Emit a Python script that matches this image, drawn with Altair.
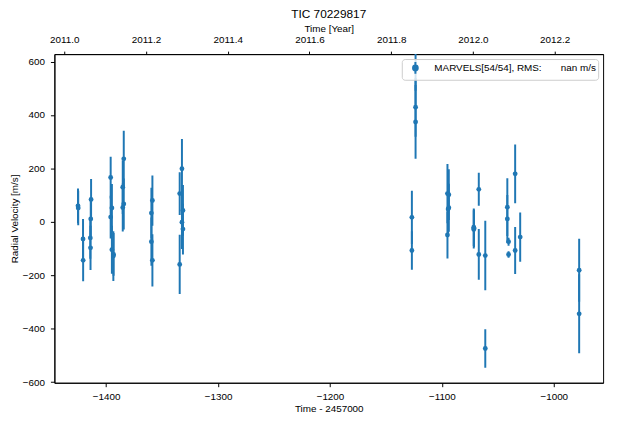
import altair as alt
import pandas as pd

# RV time series (BJD - 2457000, m/s)
time_bjd = [
    -1425.2, -1425.0, -1420.7, -1420.6,
    -1413.5, -1413.8, -1414.2, -1414.0,
    -1396.0, -1394.9, -1396.0, -1394.9, -1393.4, -1393.6,
    -1384.3, -1385.2, -1384.3, -1385.2,
    -1358.7, -1359.6, -1359.6, -1358.7,
    -1332.3, -1334.3, -1331.4, -1332.3, -1331.4, -1334.3,
    -1123.5, -1123.5, -1123.5, -1126.8, -1126.8,
    -1095.0, -1093.8, -1093.8, -1094.4, -1095.0,
    -1071.5, -1071.5, -1071.3, -1067.0, -1067.0,
    -1061.2, -1061.2,
    -1041.5, -1041.5, -1040.4, -1040.4,
    -1034.5, -1034.5, -1030.0,
    -977.3, -977.3,
]
rv = [
    60, 52, -64, -144,
    84, 11, -60, -97,
    166, 52, 18, -104, -122, -128,
    236, 130, 67, 54,
    80, 33, -74, -144,
    199, 106, 43, -1, -27, -159,
    581, 429, 374, 17, -107,
    106, 102, 53, 48, -49,
    -20, -28, -24, 122, -122,
    -126, -474,
    55, 11, -74, -122,
    180, -107, -57,
    -181, -344,
]
rv_err = [
    65, 65, 75, 78,
    77, 75, 78, 83,
    78, 90, 80, 90, 80, 93,
    105, 100, 95, 90,
    94, 95, 90, 98,
    111, 80, 95, 100, 95, 111,
    90, 110, 138, 100, 72,
    111, 95, 90, 90, 88,
    70, 72, 70, 62, 95,
    130, 72,
    108, 90, 15, 12,
    110, 88, 92,
    118, 148,
]

T_MIN, T_MAX = -1446.3, -955.9
RV_MIN, RV_MAX = -602, 628
T_2011 = -1437.5  # 2011.0 expressed as BJD - 2457000


def to_year(t):
    return 2011.0 + (t - T_2011) / 365.25


df = pd.DataFrame({"time": time_bjd, "rv": rv, "err": rv_err})
df["lo"] = df["rv"] - df["err"]
df["hi"] = df["rv"] + df["err"]
df["year"] = df["time"].map(to_year)
nb = "\u00a0"
df["series"] = f"MARVELS[54/54], RMS:{nb * 7}nan m/s"

blue = "#1f77b4"
font = "Liberation Sans"

x_scale = alt.Scale(domain=[T_MIN, T_MAX], nice=False, zero=False)
y_scale = alt.Scale(domain=[RV_MIN, RV_MAX], nice=False, zero=False)
x_axis = alt.Axis(title="Time - 2457000", values=[-1400, -1300, -1200, -1100, -1000],
                  format="d", orient="bottom", labelPadding=5, titlePadding=2,
                  titleFontWeight="normal")
y_axis = alt.Axis(title="Radial Velocity [m/s]", values=list(range(-600, 601, 200)),
                  format="d", labelPadding=6, titlePadding=3, titleFontWeight="normal")

# errorbar-like legend glyph: vertical bar with a dot
errbar_glyph = "M0.8,-1L0.8,1M0.4,0a0.4,0.4 0 1,0 0.8,0a0.4,0.4 0 1,0 -0.8,0"

color = alt.Color(
    "series:N",
    scale=alt.Scale(range=[blue]),
    legend=alt.Legend(
        title=None,
        orient="top-right",
        offset=5,
        fillColor="rgba(255,255,255,0.8)",
        strokeColor="#cccccc",
        cornerRadius=3,
        padding=2,
        labelLimit=260,
        labelFontSize=10,
        labelFont=font,
        labelColor="black",
        labelOffset=17,
        symbolType=errbar_glyph,
        symbolSize=144,
        symbolStrokeWidth=2,
        symbolFillColor=blue,
        symbolStrokeColor=blue,
        symbolOpacity=1,
    ),
)

bars = alt.Chart(df).mark_rule(strokeWidth=2, clip=True).encode(
    x=alt.X("time:Q", scale=x_scale, axis=x_axis),
    y=alt.Y("lo:Q", scale=y_scale, axis=y_axis),
    y2="hi:Q",
    color=color,
)

points = alt.Chart(df).mark_circle(size=24, opacity=1, clip=True).encode(
    x=alt.X("time:Q", scale=x_scale, axis=x_axis),
    y=alt.Y("rv:Q", scale=y_scale, axis=y_axis),
    color=color,
)

# secondary time axis in years on top
years = alt.Chart(df).mark_point(opacity=0).encode(
    x=alt.X("year:Q",
            scale=alt.Scale(domain=[to_year(T_MIN), to_year(T_MAX)], nice=False, zero=False),
            axis=alt.Axis(orient="top", title="Time [Year]", format=".1f",
                          values=[2011.0, 2011.2, 2011.4, 2011.6, 2011.8, 2012.0, 2012.2],
                          tickSize=3, labelPadding=7, titlePadding=1,
                          titleFontWeight="normal")),
    y=alt.Y("rv:Q", scale=y_scale, axis=y_axis),
)

chart = alt.layer(alt.layer(bars, points), years).resolve_scale(x="independent").properties(
    width=556,
    height=333,
    padding={"left": 47, "top": 44, "right": 8, "bottom": 32},
    autosize="none",
    title=alt.TitleParams("TIC 70229817", fontSize=12, fontWeight="normal", font=font,
                          color="black", anchor="middle", offset=3),
).configure_view(
    stroke="black", strokeWidth=1
).configure_axis(
    grid=False,
    domainColor="black",
    tickColor="black",
    tickSize=4,
    labelFont=font,
    titleFont=font,
    labelFontSize=10,
    titleFontSize=10,
    labelColor="black",
    titleColor="black",
    titleFontWeight="normal",
)

chart.save("out.html", embed_options={"renderer": "svg", "actions": False})
